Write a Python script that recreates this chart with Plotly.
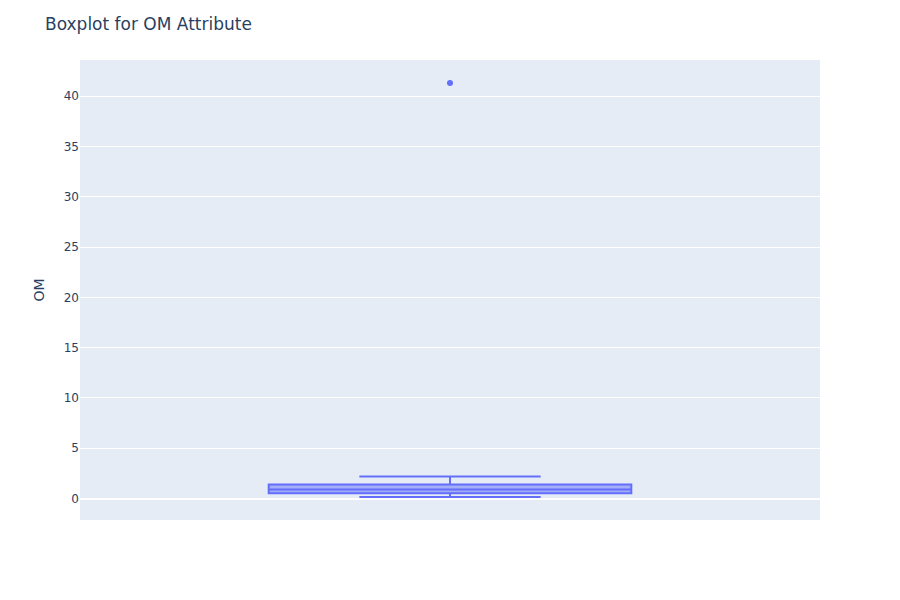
import plotly.graph_objects as go

om_values = [0.16, 0.3, 0.42, 0.5, 0.56, 0.65, 0.72, 0.82, 0.9, 0.98,
             1.1, 1.25, 1.35, 1.55, 1.8, 2.2, 41.3]

fig = go.Figure()
fig.add_trace(go.Box(y=om_values, name="", marker_color="#636efa", showlegend=False))
fig.update_layout(
    template="plotly",
    font=dict(family="DejaVu Sans"),
    title=dict(text="Boxplot for OM Attribute"),
    yaxis_title="OM",
    width=900, height=600,
    margin=dict(t=60, l=80, r=80, b=80),
)
fig.update_xaxes(showticklabels=False)
fig.write_html("out.html")
